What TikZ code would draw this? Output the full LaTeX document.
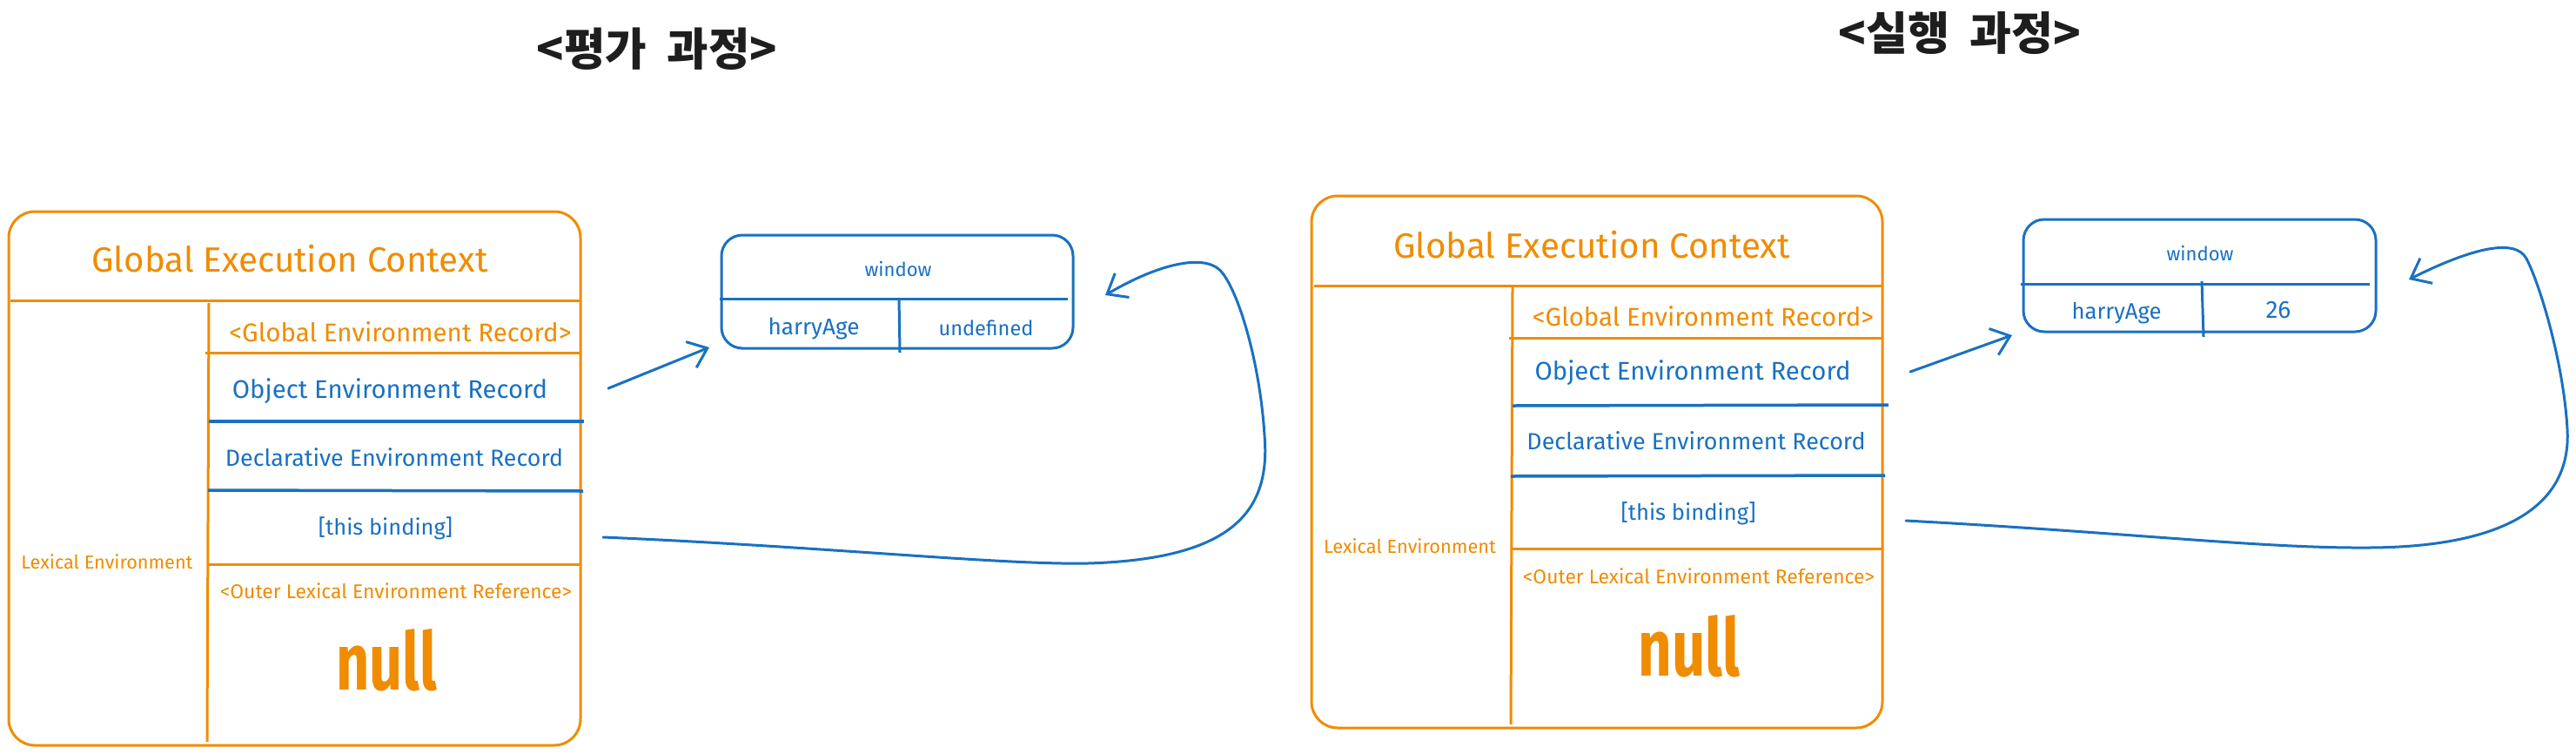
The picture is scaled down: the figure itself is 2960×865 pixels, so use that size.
\documentclass[tikz,border=0pt]{standalone}
\usepackage{fontspec}
\setmainfont{Fira Sans}
\newfontfamily\krfont{Noto Sans CJK KR}
\usetikzlibrary{arrows.meta}
\definecolor{exor}{HTML}{F08C00}
\definecolor{exbl}{HTML}{1971C2}
\definecolor{exdk}{HTML}{1E1E1E}
\newcommand\fitw[2]{\resizebox{#1pt}{!}{#2}}
\begin{document}
\begin{tikzpicture}[x=1pt,y=-1pt,
  frame/.style={draw=exor, line width=3pt, rounded corners=30pt, inner sep=0pt, outer sep=0pt},
  winbox/.style={draw=exbl, line width=3pt, rounded corners=24pt, inner sep=0pt, outer sep=0pt},
  oline/.style={draw=exor, line width=3pt},
  bline/.style={draw=exbl, line width=3.5pt},
  wline/.style={draw=exbl, line width=3pt},
  otext/.style={text=exor, inner sep=0pt},
  btext/.style={text=exbl, inner sep=0pt},
  nulltext/.style={text=exor, inner sep=0pt, font=\bfseries},
  link/.style={draw=exbl, line width=3pt, line cap=round, -{Straight Barb[length=20pt,width=32pt,line width=3pt]}},
  heading/.style={text=exdk, inner sep=0pt, font=\krfont\bfseries}]
\useasboundingbox[fill=white] (0,0) rectangle (2960,865);

% headings
\node[heading] (hEval) at (755,56) {\fitw{276}{<평가\hspace{0.45em}과정>}};
\node[heading] (hExec) at (2252,38) {\fitw{279}{<실행\hspace{0.45em}과정>}};

% ---------- left: evaluation ----------
\node[frame, minimum width=657pt, minimum height=613pt] (gecL) at (338.5,549.5) {};
\draw[oline] (12,345) -- (667,345);
\draw[oline] (240,348) -- (238,852);
\draw[oline] (236,405) -- (667,405);
\draw[bline] (240,484) -- (671,484);
\draw[bline] (239,563) -- (670,564);
\draw[oline] (240,648) -- (667,648);

\node[otext] (titleL) at (333,297) {\fitw{455}{Global Execution Context}};
\node[otext] (gerL) at (460,381) {\fitw{393}{<Global Environment Record>}};
\node[btext] (oerL) at (448,449) {\fitw{362}{Object Environment Record}};
\node[btext] (derL) at (453,525) {\fitw{388}{Declarative Environment Record}};
\node[btext] (thisL) at (443,607) {\fitw{154}{[this binding]}};
\node[otext] (outerL) at (455,679) {\fitw{404}{<Outer Lexical Environment Reference>}};
\node[nulltext] (nullL) at (444,758) {\resizebox{116pt}{70pt}{null}};
\node[otext] (lexL) at (123,645) {\fitw{197}{Lexical Environment}};

\node[winbox, minimum width=404pt, minimum height=130pt] (winL) at (1031,335) {};
\draw[wline] (827,343) -- (1227,343);
\draw[wline] (1033,342) -- (1034,405);
\node[btext] (winLt) at (1032,309) {\fitw{77}{window}};
\node[btext] (harryL) at (935,377) {\fitw{105}{harryAge}};
\node[btext] (undefL) at (1133,377) {\fitw{109}{undefined}};

\coordinate (aL0) at (699,446);
\coordinate (aL1) at (815,399);
\draw[link] (aL0) -- (aL1);

\coordinate (cL0) at (693,617);
\coordinate (cL1) at (1250,647);
\coordinate (cL2) at (1453,500);
\coordinate (cL3) at (1405,314);
\coordinate (cL4) at (1270,339);
\draw[link] (cL0) .. controls (950,628) and (1150,649) .. (cL1)
  .. controls (1420,642) and (1460,585) .. (cL2)
  .. controls (1448,420) and (1425,340) .. (cL3)
  .. controls (1390,292) and (1340,298) .. (cL4);

% ---------- right: execution ----------
\node[frame, minimum width=656pt, minimum height=611pt] (gecR) at (1835,530.5) {};
\draw[oline] (1510,328) -- (2163,328);
\draw[oline] (1738,330) -- (1736,832);
\draw[oline] (1734,388) -- (2163,388);
\draw[bline] (1738,466) -- (2170,465);
\draw[bline] (1736,547) -- (2166,546);
\draw[oline] (1738,630) -- (2163,630);

\node[otext] (titleR) at (1829,281) {\fitw{456}{Global Execution Context}};
\node[otext] (gerR) at (1957,363) {\fitw{392}{<Global Environment Record>}};
\node[btext] (oerR) at (1945,428) {\fitw{363}{Object Environment Record}};
\node[btext] (derR) at (1949,506) {\fitw{389}{Declarative Environment Record}};
\node[btext] (thisR) at (1940,590) {\fitw{155}{[this binding]}};
\node[otext] (outerR) at (1952,662) {\fitw{404}{<Outer Lexical Environment Reference>}};
\node[nulltext] (nullR) at (1941,742) {\resizebox{117pt}{70pt}{null}};
\node[otext] (lexR) at (1620,627) {\fitw{198}{Lexical Environment}};

\node[winbox, minimum width=405pt, minimum height=129pt] (winR) at (2527.5,316.5) {};
\draw[wline] (2322,326) -- (2723,326);
\draw[wline] (2530,323) -- (2532,387);
\node[btext] (winRt) at (2528,291) {\fitw{77}{window}};
\node[btext] (harryR) at (2432,360) {\fitw{103}{harryAge}};
\node[btext] (valR) at (2618,356) {\fitw{29}{26}};

\coordinate (aR0) at (2195,427);
\coordinate (aR1) at (2312,385);
\draw[link] (aR0) -- (aR1);

\coordinate (cR0) at (2190,598);
\coordinate (cR1) at (2723,629);
\coordinate (cR2) at (2950,493);
\coordinate (cR3) at (2903,297);
\coordinate (cR4) at (2768,321);
\draw[link] (cR0) .. controls (2450,612) and (2600,630) .. (cR1)
  .. controls (2880,628) and (2955,580) .. (cR2)
  .. controls (2946,420) and (2920,330) .. (cR3)
  .. controls (2890,273) and (2840,285) .. (cR4);
\end{tikzpicture}
\end{document}
